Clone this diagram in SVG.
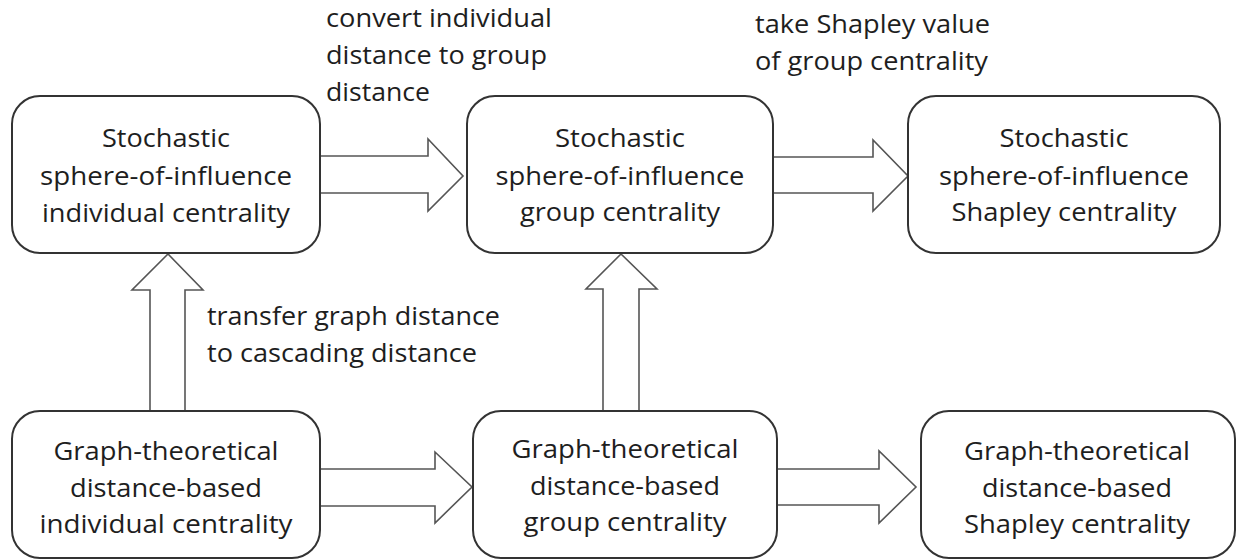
<svg xmlns="http://www.w3.org/2000/svg" width="1239" height="560" viewBox="0 0 1239 560">
<style>
.box{fill:#fff;stroke:#333;stroke-width:2}
.arr{fill:#fff;stroke:#555;stroke-width:1.6;stroke-linejoin:miter}
text{font-family:"Open Sans","Noto Sans","Liberation Sans",sans-serif;font-size:26px;fill:#1e1e1e}
.c{text-anchor:middle}
</style>
<rect width="1239" height="560" fill="#fff"/>
<g id="connectors">
<polygon class="arr" points="320,156 428,156 428,139 463,176 428,211 428,193 320,193"/>
<polygon class="arr" points="773,157 873,157 873,140 908,176 873,211 873,193 773,193"/>
<polygon class="arr" points="320,469 435,469 435,452 472,487 435,523 435,506 320,506"/>
<polygon class="arr" points="777,469 879,469 879,451 916,487 879,523 879,505 777,505"/>
<polygon class="arr" points="150,411 150,290 132,290 168,254 203,290 185,290 185,411"/>
<polygon class="arr" points="603,411 603,289 586,289 621,254 657,289 639,289 639,411"/>
</g>
<g id="labels">
<text x="326" y="27" textLength="226" lengthAdjust="spacingAndGlyphs">convert individual</text>
<text x="326" y="64" textLength="221" lengthAdjust="spacingAndGlyphs">distance to group</text>
<text x="326" y="101" textLength="104" lengthAdjust="spacingAndGlyphs">distance</text>
<text x="755" y="33" textLength="235" lengthAdjust="spacingAndGlyphs">take Shapley value</text>
<text x="755" y="70" textLength="233" lengthAdjust="spacingAndGlyphs">of group centrality</text>
<text x="207" y="325" textLength="293" lengthAdjust="spacingAndGlyphs">transfer graph distance</text>
<text x="207" y="362" textLength="270" lengthAdjust="spacingAndGlyphs">to cascading distance</text>
</g>
<g id="n1">
<rect class="box" x="12" y="96" width="308" height="157" rx="28"/>
<text class="c" x="166" y="147" textLength="128" lengthAdjust="spacingAndGlyphs">Stochastic</text>
<text class="c" x="166" y="185" textLength="252" lengthAdjust="spacingAndGlyphs">sphere-of-influence</text>
<text class="c" x="166" y="222" textLength="248" lengthAdjust="spacingAndGlyphs">individual centrality</text>
</g>
<g id="n2">
<rect class="box" x="467" y="96" width="306" height="157" rx="28"/>
<text class="c" x="620" y="147" textLength="130" lengthAdjust="spacingAndGlyphs">Stochastic</text>
<text class="c" x="620" y="185" textLength="249" lengthAdjust="spacingAndGlyphs">sphere-of-influence</text>
<text class="c" x="620" y="221" textLength="200" lengthAdjust="spacingAndGlyphs">group centrality</text>
</g>
<g id="n3">
<rect class="box" x="908" y="96" width="312" height="157" rx="28"/>
<text class="c" x="1064" y="147" textLength="129" lengthAdjust="spacingAndGlyphs">Stochastic</text>
<text class="c" x="1064" y="185" textLength="250" lengthAdjust="spacingAndGlyphs">sphere-of-influence</text>
<text class="c" x="1064" y="221" textLength="225" lengthAdjust="spacingAndGlyphs">Shapley centrality</text>
</g>
<g id="n4">
<rect class="box" x="12" y="411" width="308" height="147" rx="28"/>
<text class="c" x="166" y="460" textLength="225" lengthAdjust="spacingAndGlyphs">Graph-theoretical</text>
<text class="c" x="166" y="497" textLength="192" lengthAdjust="spacingAndGlyphs">distance-based</text>
<text class="c" x="166" y="533" textLength="253" lengthAdjust="spacingAndGlyphs">individual centrality</text>
</g>
<g id="n5">
<rect class="box" x="473" y="411" width="304" height="147" rx="28"/>
<text class="c" x="625" y="458" textLength="227" lengthAdjust="spacingAndGlyphs">Graph-theoretical</text>
<text class="c" x="625" y="495" textLength="190" lengthAdjust="spacingAndGlyphs">distance-based</text>
<text class="c" x="625" y="531" textLength="203" lengthAdjust="spacingAndGlyphs">group centrality</text>
</g>
<g id="n6">
<rect class="box" x="921" y="411" width="314" height="147" rx="28"/>
<text class="c" x="1077" y="460" textLength="226" lengthAdjust="spacingAndGlyphs">Graph-theoretical</text>
<text class="c" x="1077" y="497" textLength="190" lengthAdjust="spacingAndGlyphs">distance-based</text>
<text class="c" x="1077" y="533" textLength="226" lengthAdjust="spacingAndGlyphs">Shapley centrality</text>
</g>
</svg>
